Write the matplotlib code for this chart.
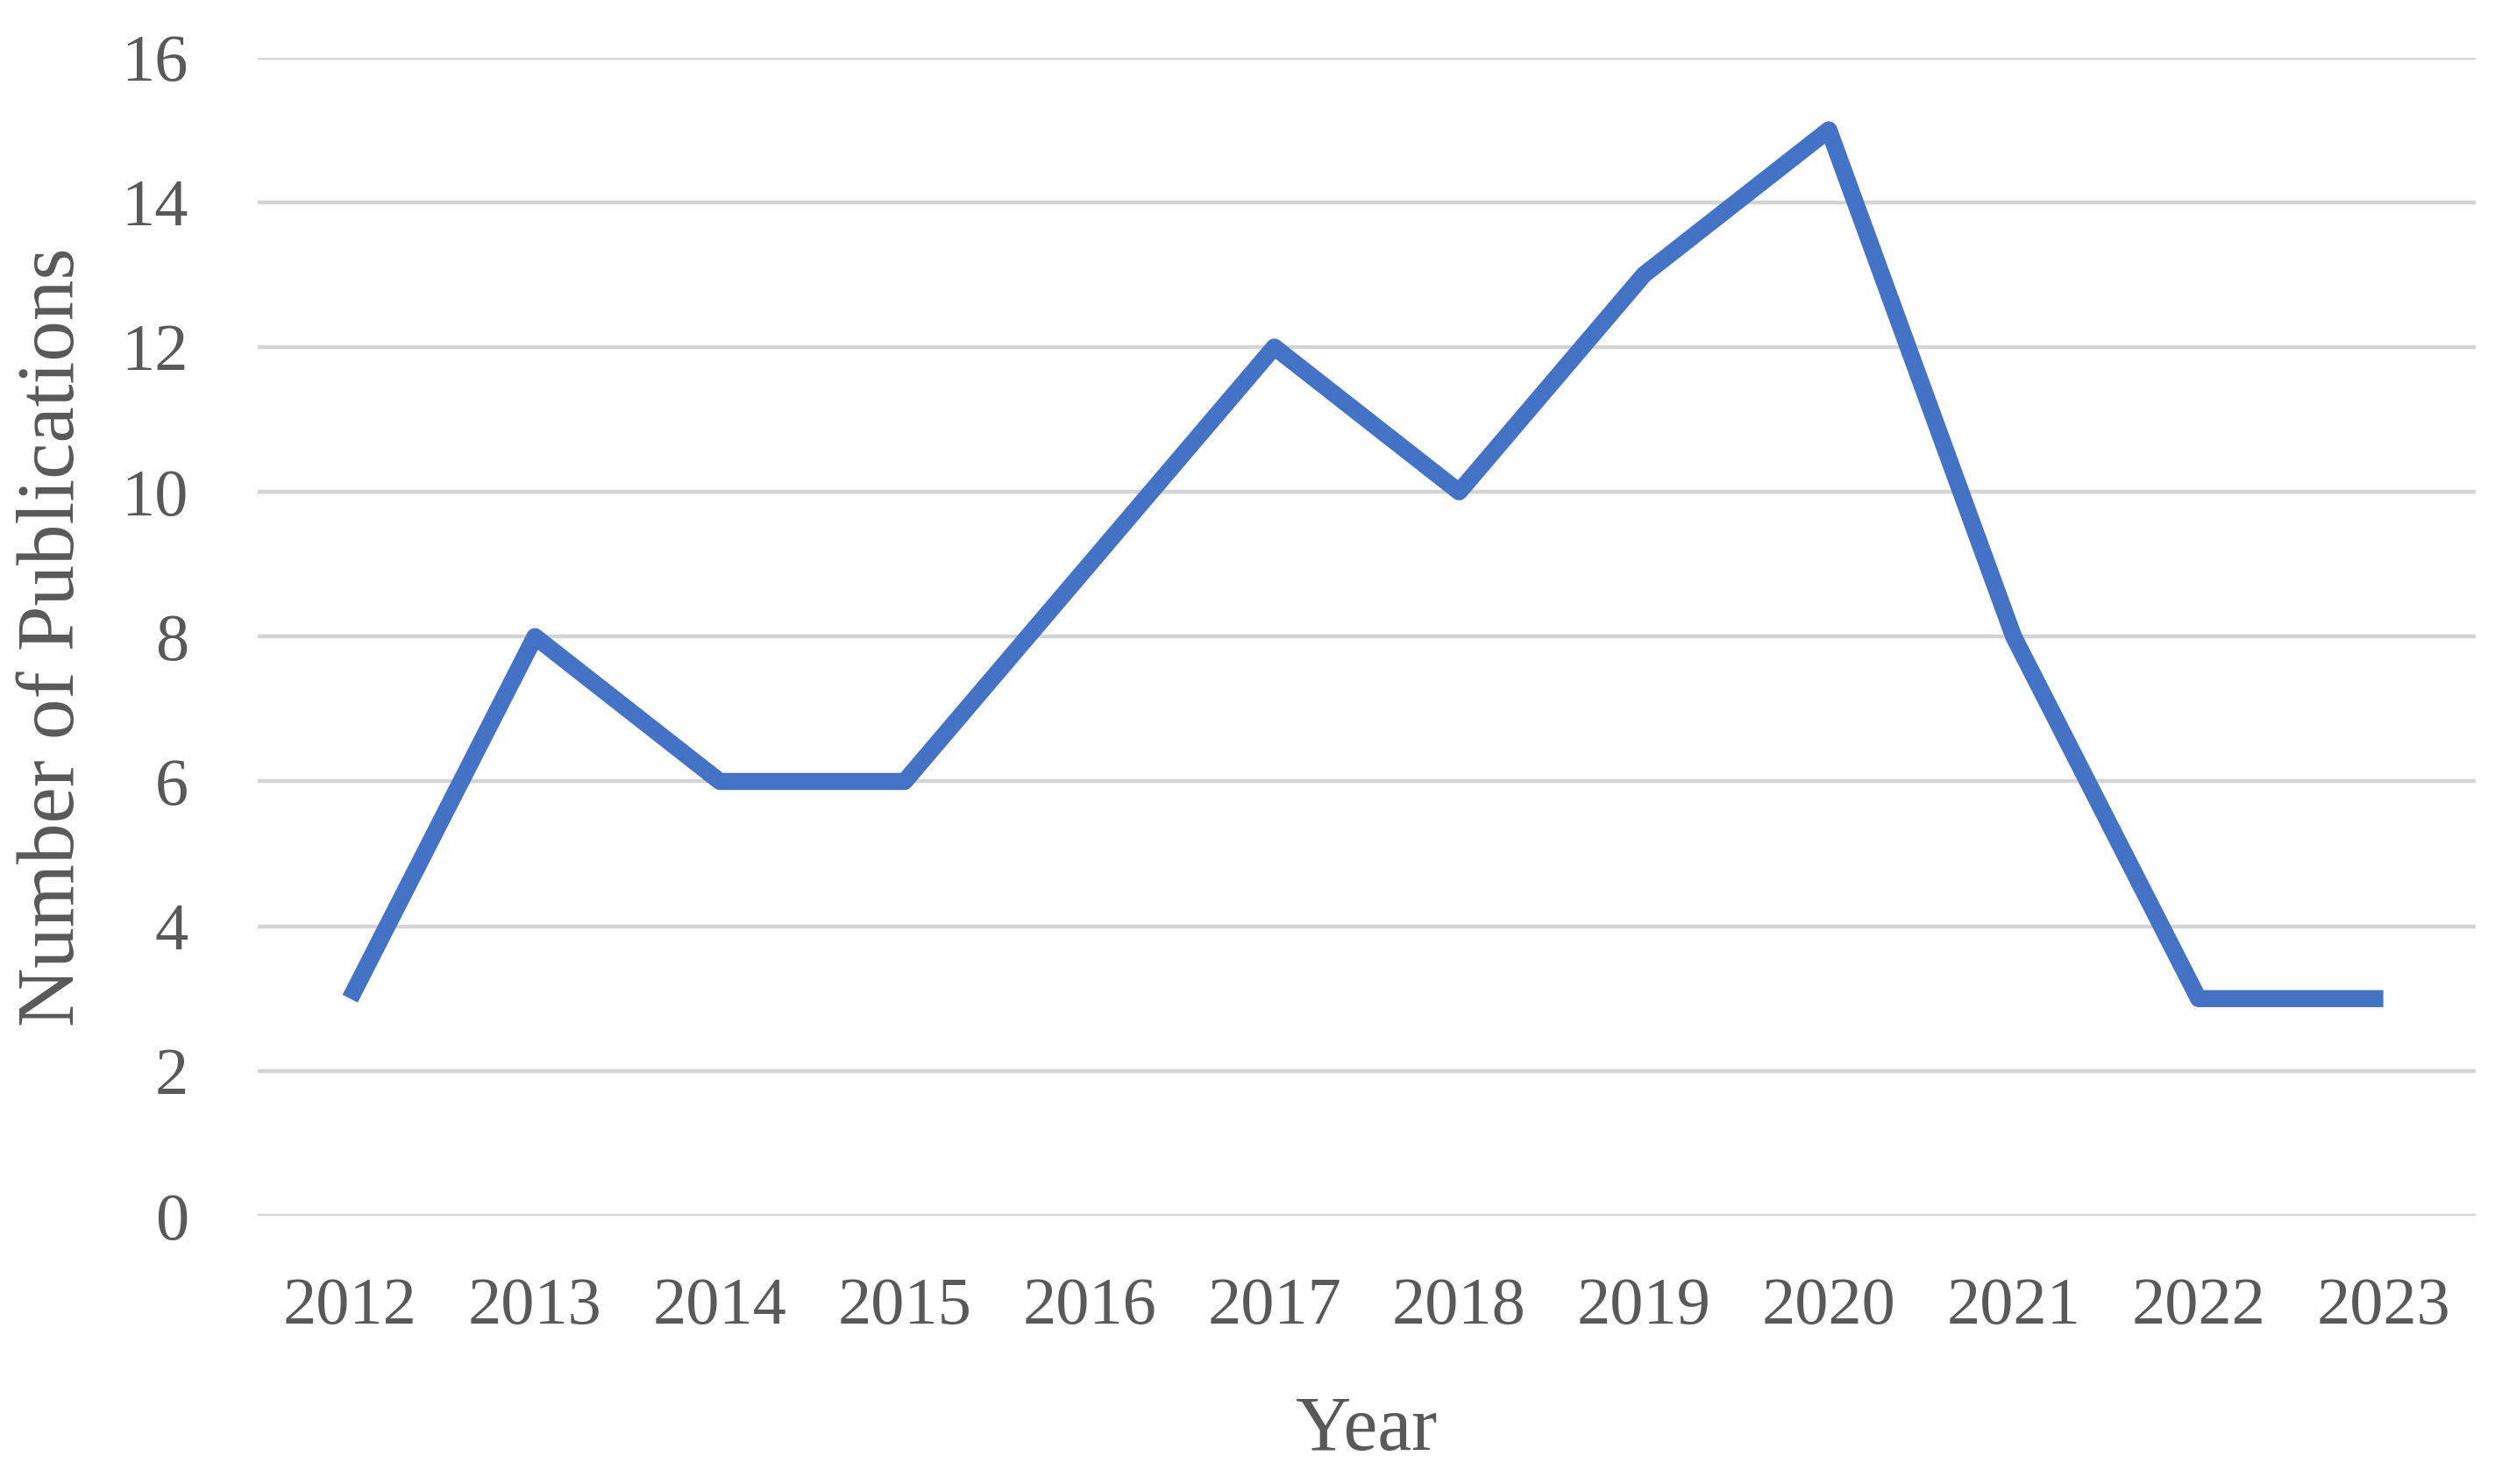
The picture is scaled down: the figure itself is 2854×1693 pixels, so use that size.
import matplotlib
matplotlib.use("Agg")
import matplotlib.pyplot as plt

years = ["2012", "2013", "2014", "2015", "2016", "2017", "2018", "2019", "2020", "2021", "2022", "2023"]
publications = [3, 8, 6, 6, 9, 12, 10, 13, 15, 8, 3, 3]
y_ticks = [0, 2, 4, 6, 8, 10, 12, 14, 16]

plt.rcParams['font.family'] = ['Liberation Serif', 'DejaVu Serif']
text_color = "#595959"

fig = plt.figure(figsize=(28.54, 16.93), dpi=100)
ax = fig.add_axes([0.103, 0.1807, 0.8865, 0.7806])

x = list(range(len(years)))
ax.plot(x, publications, color="#4472C4", linewidth=14,
        solid_joinstyle="round", solid_capstyle="butt", zorder=3)

ax.set_xlim(-0.5, len(years) - 0.5)
ax.set_ylim(0, 16)
ax.set_yticks(y_ticks)
ax.set_xticks(x)
ax.set_xticklabels(years)
ax.yaxis.grid(True, color="#d4d4d4", linewidth=3.2)
ax.set_axisbelow(True)
for s in ax.spines.values():
    s.set_visible(False)
ax.tick_params(axis="both", length=0, labelsize=55, labelcolor=text_color)
ax.tick_params(axis="y", pad=57)
ax.tick_params(axis="x", pad=50)

ax.set_xlabel("Year", fontsize=63, color=text_color)
ax.set_ylabel("Number of Publications", fontsize=67, color=text_color)
ax.xaxis.set_label_coords(0.5, -0.155)
ax.yaxis.set_label_coords(-0.075, 0.5)

fig.savefig("out.png", dpi=100, facecolor="white")
